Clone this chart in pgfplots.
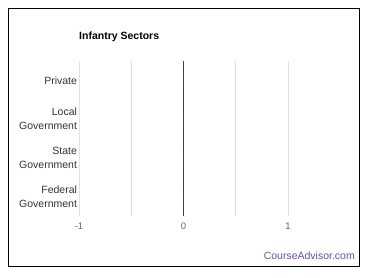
\documentclass[border=0pt]{standalone}
\usepackage{pgfplots}
\pgfplotsset{compat=1.18}
\usepackage{fontspec}
\setmainfont{Liberation Sans}
\definecolor{gridc}{HTML}{E2E2E2}
\definecolor{labc}{HTML}{333333}
\definecolor{tickc}{HTML}{666666}
\definecolor{brand}{HTML}{6B4FA8}
\begin{document}
\begin{tikzpicture}
\path[fill=white] (0pt,0pt) rectangle (370pt,278pt);
\draw[line width=1.3pt] (8.5pt,11.5pt) rectangle (359.5pt,269.5pt);
\node[anchor=west, font=\fontsize{10.5}{12}\selectfont\bfseries, text=black, inner sep=0pt] at (79pt,241pt) {Infantry Sectors};
\begin{axis}[
  at={(79pt,62pt)}, anchor=south west, scale only axis,
  width=209pt, height=155pt,
  xmin=-1, xmax=1, ymin=-0.5, ymax=3.5,
  xbar, bar width=20pt,
  axis line style={draw=none},
  major tick length=0pt, minor tick length=0pt,
  xtick={-1,0,1}, minor xtick={-0.5,0.5},
  xmajorgrids, xminorgrids,
  grid style={gridc, line width=0.8pt},
  minor grid style={gridc, line width=0.8pt},
  extra x ticks={0}, extra x tick labels={},
  extra x tick style={grid style={black!75, line width=1pt}},
  ytick={0,1,2,3},
  yticklabels={Federal\\Government, State\\Government, Local\\Government, Private},
  yticklabel style={align=right, font=\fontsize{10.5}{14}\selectfont, text=labc, xshift=1.5pt},
  xticklabel style={font=\fontsize{9.5}{11}\selectfont, text=tickc, yshift=-3pt},
  /pgf/number format/assume math mode=true,
]
% Federal, State, Local, Private (bottom to top)
\addplot[draw=none, fill=brand] coordinates {(0,0) (0,1) (0,2) (0,3)};
\end{axis}
\node[anchor=east, font=\fontsize{10.5}{12}\selectfont, text=brand, inner sep=0pt] at (355pt,22pt) {CourseAdvisor.com};
\end{tikzpicture}
\end{document}
